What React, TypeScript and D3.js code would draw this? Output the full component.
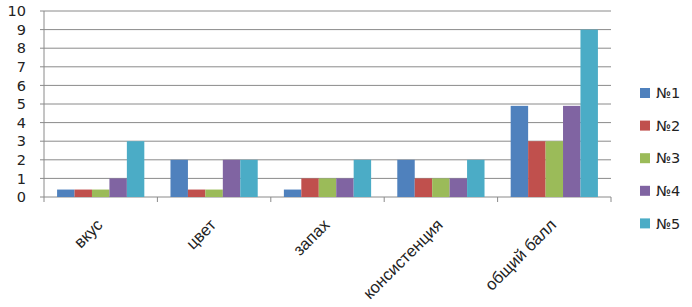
import React from "react";
import * as d3 from "d3";

const categories = ["вкус", "цвет", "запах", "консистенция", "общий балл"];
const seriesNames = ["№1", "№2", "№3", "№4", "№5"];
const s1 = [0.4, 2, 0.4, 2, 4.9];
const s2 = [0.4, 0.4, 1, 1, 3];
const s3 = [0.4, 0.4, 1, 1, 3];
const s4 = [1, 2, 1, 1, 4.9];
const s5 = [3, 2, 2, 2, 9];
const yTicks = [0, 1, 2, 3, 4, 5, 6, 7, 8, 9, 10];
const colors = ["#4F81BD", "#C0504D", "#9BBB59", "#8064A2", "#4BACC6"];

const W = 692, H = 307;
const left = 44, right = 611, top = 11, bottom = 197;
const font = "'DejaVu Sans', Verdana, sans-serif";
const labelFont = "'Liberation Sans', Arial, sans-serif";

export default function App() {
  const series = [s1, s2, s3, s4, s5];
  const x0 = d3.scaleBand().domain(categories).range([left, right]).paddingInner(0).paddingOuter(0);
  const bw = x0.bandwidth() / 6.5;
  const y = d3.scaleLinear().domain([0, 10]).range([bottom, top]);
  const catTicks = d3.range(categories.length + 1).map(i => left + i * x0.bandwidth());

  return (
    <svg width={W} height={H} style={{ position: "absolute", left: 0, top: 0, background: "#fff" }}>
      {yTicks.map(t => (
        <g key={t}>
          <line x1={left - 4} x2={right} y1={y(t)} y2={y(t)} stroke="#8a8a8a" strokeWidth={1} />
          <text x={26} y={y(t)} dy="0.36em" textAnchor="end" fontFamily={font} fontSize={14.5} fill="#222">{t}</text>
        </g>
      ))}
      <line x1={left} x2={left} y1={top} y2={bottom} stroke="#8a8a8a" />
      {catTicks.map((cx, i) => (
        <line key={i} x1={cx} x2={cx} y1={bottom} y2={bottom + 5} stroke="#8a8a8a" />
      ))}
      {categories.map((c, ci) => {
        const gx = (x0(c) as number) + 0.75 * bw;
        return (
          <g key={c}>
            {series.map((s, si) => (
              <rect key={si} x={gx + si * bw} width={bw} y={y(s[ci])} height={bottom - y(s[ci])} fill={colors[si]} />
            ))}
          </g>
        );
      })}
      {categories.map(c => {
        const cx = (x0(c) as number) + x0.bandwidth() / 2;
        return (
          <text key={c} transform={`translate(${cx + 3},${226}) rotate(-45)`} textAnchor="end" fontFamily={labelFont} fontSize={16.5} fill="#222">{c}</text>
        );
      })}
      {seriesNames.map((n, i) => (
        <g key={n} transform={`translate(640,${93 + i * 32.6})`}>
          <rect x={0} y={-5} width={10} height={10} fill={colors[i]} />
          <text x={16} y={0} dy="0.36em" fontFamily={font} fontSize={14.5} fill="#222">{n}</text>
        </g>
      ))}
    </svg>
  );
}
